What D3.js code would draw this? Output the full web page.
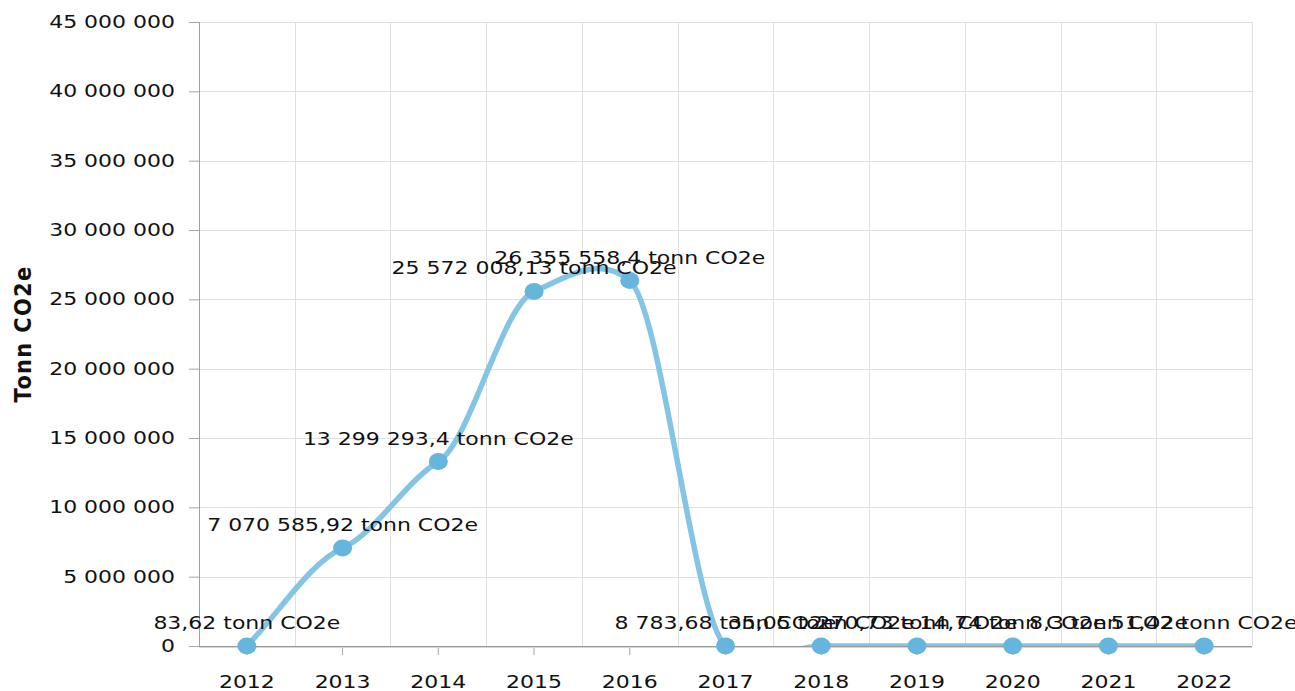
<!DOCTYPE html>
<html lang="no">
<head>
<meta charset="utf-8">
<title>Tonn CO2e</title>
<style>
body { margin: 0; background: #fff; }
svg text { font-family: "DejaVu Sans", Verdana, sans-serif; fill: #111; }
.tick line { stroke: #a6a6a6; }
.domain { display: none; }
.grid line { stroke: #e0e0e0; stroke-width: 1; }
</style>
</head>
<body>
<div id="chart"></div>
<script src="https://d3js.org/d3.v7.min.js"></script>
<script>
// data
var years = ['2012', '2013', '2014', '2015', '2016', '2017', '2018', '2019', '2020', '2021', '2022'];
var emissions = [83.62, 7070585.92, 13299293.4, 25572008.13, 26355558.4, 8783.68, 35.05, 270.73, 14.74, 8.3, 51.42];
var yTicks = [0, 5000000, 10000000, 15000000, 20000000, 25000000, 30000000, 35000000, 40000000, 45000000];
var unit = ' tonn CO2e';
var axisTitle = 'Tonn CO2e';

var W = 1295, H = 691;
var margin = { top: 22, right: 43, bottom: 45, left: 199 };
var width = W - margin.left - margin.right;
var height = H - margin.top - margin.bottom;
var sx = 1.257; // text in the picture is drawn wide

var nb = d3.formatLocale({ decimal: ',', thousands: ' ', grouping: [3], currency: ['', ''] });
var fmtVal = nb.format(',.2~f');
var fmtTick = nb.format(',d');

// smooth curve: bezier through the points, tangents damped at inner points,
// chord direction at the two ends
function curveSmooth(context) {
  var pts;
  var k = 0.45;
  return {
    areaStart: function() {}, areaEnd: function() {},
    lineStart: function() { pts = []; },
    point: function(px, py) { pts.push([+px, +py]); },
    lineEnd: function() {
      var n = pts.length, m = [];
      for (var i = 0; i < n; i++) {
        if (i === 0) m[i] = (pts[1][1] - pts[0][1]) / (pts[1][0] - pts[0][0]);
        else if (i === n - 1) m[i] = (pts[i][1] - pts[i - 1][1]) / (pts[i][0] - pts[i - 1][0]);
        else m[i] = k * (pts[i + 1][1] - pts[i - 1][1]) / (pts[i + 1][0] - pts[i - 1][0]);
      }
      context.moveTo(pts[0][0], pts[0][1]);
      for (var j = 0; j < n - 1; j++) {
        var dx = (pts[j + 1][0] - pts[j][0]) / 3;
        context.bezierCurveTo(
          pts[j][0] + dx, pts[j][1] + m[j] * dx,
          pts[j + 1][0] - dx, pts[j + 1][1] - m[j + 1] * dx,
          pts[j + 1][0], pts[j + 1][1]);
      }
    }
  };
}

var svg = d3.select('#chart').append('svg')
  .attr('width', W).attr('height', H);
var g = svg.append('g')
  .attr('transform', 'translate(' + margin.left + ',' + margin.top + ')');

var x = d3.scaleBand().domain(years).range([0, width]).padding(0);
var y = d3.scaleLinear().domain([0, 45000000]).range([height, 0]);
var cx = function(d) { return x(d) + x.bandwidth() / 2; };

// grid
var grid = g.append('g').attr('class', 'grid');
grid.selectAll('.h').data(yTicks.slice(1)).enter().append('line')
  .attr('x1', 0).attr('x2', width)
  .attr('y1', function(d) { return Math.round(y(d)) + 0.5; })
  .attr('y2', function(d) { return Math.round(y(d)) + 0.5; });
grid.selectAll('.v').data(years.slice(1).map(function(d) { return x(d); }).concat([width])).enter().append('line')
  .attr('x1', function(d) { return Math.round(d) + 0.5; })
  .attr('x2', function(d) { return Math.round(d) + 0.5; })
  .attr('y1', 0).attr('y2', height);

// y axis
var ya = g.append('g')
  .call(d3.axisLeft(y).tickValues(yTicks).tickFormat(fmtTick).tickSize(10).tickPadding(14));
ya.selectAll('text')
  .style('font-size', '17.5px')
  .attr('x', null)
  .attr('transform', 'translate(-24,0) scale(' + sx + ',1)');
g.append('line')
  .attr('x1', 0.5).attr('x2', 0.5).attr('y1', 0).attr('y2', height)
  .attr('stroke', '#a0a0a0');

// x axis
var xa = g.append('g')
  .attr('transform', 'translate(0,' + height + ')')
  .call(d3.axisBottom(x).tickSize(9).tickPadding(0));
xa.selectAll('text')
  .style('font-size', '17.5px')
  .attr('y', null).attr('dy', null)
  .attr('transform', 'translate(0,42) scale(' + sx + ',1)');
g.append('line')
  .attr('x1', 0).attr('x2', width).attr('y1', height + 0.5).attr('y2', height + 0.5)
  .attr('stroke', '#9a9a9a');
g.append('line')
  .attr('x1', 0).attr('x2', width).attr('y1', height + 1.5).attr('y2', height + 1.5)
  .attr('stroke', '#d6d6d6');

// axis title
svg.append('text')
  .attr('transform', 'translate(31,334) scale(1.12,1) rotate(-90)')
  .attr('text-anchor', 'middle')
  .style('font-size', '21px')
  .style('font-weight', 'bold')
  .style('letter-spacing', '1.3px')
  .text(axisTitle);

// line
svg.append('clipPath').attr('id', 'plot')
  .append('rect').attr('width', width).attr('height', height);
var line = d3.line()
  .x(function(d, i) { return cx(years[i]); })
  .y(function(d) { return y(d); })
  .curve(curveSmooth);
g.append('path')
  .datum(emissions)
  .attr('clip-path', 'url(#plot)')
  .attr('fill', 'none')
  .attr('stroke', '#84c4e4')
  .attr('stroke-width', 5.5)
  .attr('d', line);

// markers
g.selectAll('.dot').data(emissions).enter().append('ellipse')
  .attr('cx', function(d, i) { return cx(years[i]); })
  .attr('cy', function(d) { return y(d); })
  .attr('rx', 9.5).attr('ry', 8.5)
  .attr('fill', '#66b5dc');

// labels
g.selectAll('.lbl').data(emissions).enter().append('text')
  .attr('text-anchor', 'middle')
  .style('font-size', '17.5px')
  .attr('transform', function(d, i) {
    return 'translate(' + cx(years[i]) + ',' + (y(d) - 17) + ') scale(' + sx + ',1)';
  })
  .text(function(d) { return fmtVal(d) + unit; });
</script>
</body>
</html>
